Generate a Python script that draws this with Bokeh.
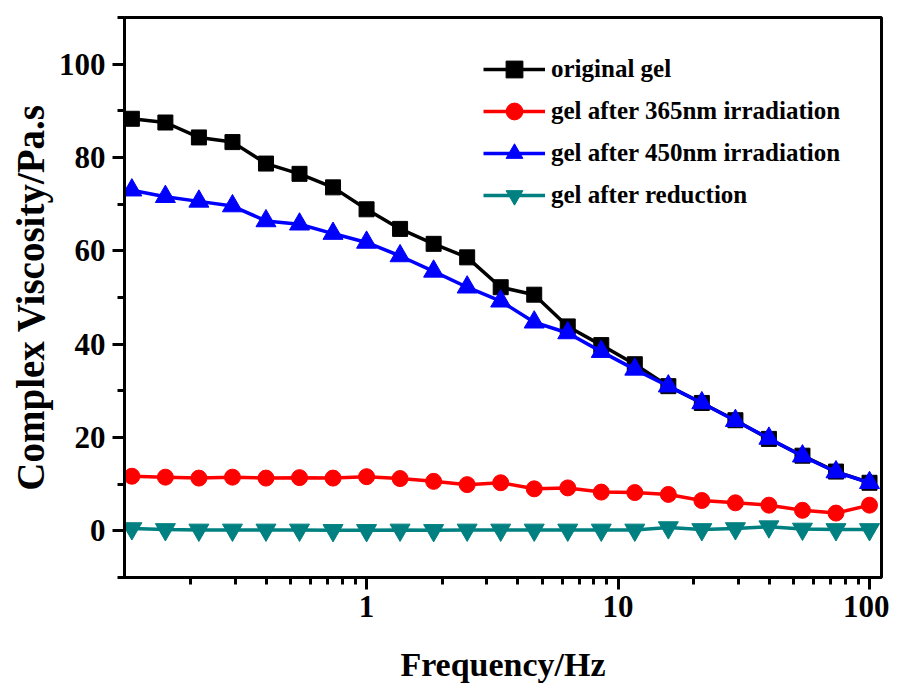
from bokeh.plotting import figure
from bokeh.models import FixedTicker, Range1d, Legend, LegendItem
from bokeh.embed import file_html
from bokeh.resources import INLINE

freq = [0.1166, 0.1585, 0.2154, 0.2929, 0.3981, 0.5412, 0.7356, 1.0, 1.359, 1.848,
        2.512, 3.415, 4.642, 6.310, 8.577, 11.66, 15.85, 21.54, 29.29, 39.81,
        54.12, 73.56, 100.0]
original = [88.3, 87.5, 84.3, 83.3, 78.7, 76.5, 73.6, 68.9, 64.7, 61.5,
            58.6, 52.2, 50.6, 43.8, 39.8, 35.7, 31.0, 27.4, 23.7, 19.7,
            16.1, 12.7, 10.3]
after365 = [11.7, 11.5, 11.3, 11.5, 11.3, 11.4, 11.3, 11.6, 11.2, 10.6,
            9.9, 10.3, 9.0, 9.2, 8.3, 8.2, 7.8, 6.5, 6.0, 5.5,
            4.4, 3.8, 5.5]
after450 = [73.0, 71.6, 70.6, 69.6, 66.4, 65.7, 63.7, 61.8, 58.9, 55.6,
            52.2, 49.2, 44.7, 42.4, 38.4, 34.6, 31.0, 27.4, 23.6, 19.8,
            16.0, 12.6, 10.3]
reduction = [0.5, 0.3, 0.2, 0.2, 0.2, 0.2, 0.1, 0.1, 0.2, 0.1,
             0.2, 0.2, 0.2, 0.2, 0.2, 0.2, 0.7, 0.3, 0.5, 0.9,
             0.4, 0.3, 0.3]

series_names = ["original gel", "gel after 365nm irradiation",
                "gel after 450nm irradiation", "gel after reduction"]
x_major = [1, 10, 100]
y_major = [0, 20, 40, 60, 80, 100]

FONT = "'Liberation Serif', 'Times New Roman', serif"

p = figure(width=889, height=685, x_axis_type="log",
           x_range=Range1d(0.109, 111.6), y_range=Range1d(-10, 110),
           output_backend="svg", toolbar_location=None,
           min_border_left=124, min_border_right=8, min_border_top=17,
           min_border_bottom=107)
p.grid.visible = False
p.outline_line_color = "black"
p.outline_line_width = 3
p.background_fill_color = "white"
p.border_fill_color = "white"

x_minor = [m * d for d in (0.1, 1, 10) for m in range(2, 10)]
y_minor = [-10, 10, 30, 50, 70, 90, 110]
p.xaxis.ticker = FixedTicker(ticks=x_major, minor_ticks=x_minor)
p.yaxis.ticker = FixedTicker(ticks=y_major, minor_ticks=y_minor)
p.xaxis.major_label_overrides = {1: "1", 10: "10", 100: "100"}

for ax in (p.xaxis[0], p.yaxis[0]):
    ax.axis_line_width = 3
    ax.axis_line_color = "black"
    ax.major_tick_line_width = 3
    ax.minor_tick_line_width = 3
    ax.major_tick_in = 0
    ax.minor_tick_in = 0
    ax.major_tick_out = 12
    ax.minor_tick_out = 7
    ax.major_label_text_font = FONT
    ax.major_label_text_font_style = "bold"
    ax.major_label_text_font_size = "31px"
    ax.major_label_text_color = "black"
    ax.axis_label_text_font = FONT
    ax.axis_label_text_font_style = "bold"
    ax.axis_label_text_color = "black"

p.xaxis.axis_label = "Frequency/Hz"
p.yaxis.axis_label = "Complex Viscosity/Pa.s"
p.xaxis.axis_label_text_font_size = "34px"
p.yaxis.axis_label_text_font_size = "39px"
p.xaxis.major_label_standoff = 6
p.yaxis.major_label_standoff = 7
p.xaxis.axis_label_standoff = 26
p.yaxis.axis_label_standoff = 4

specs = [
    (original, "black", "square", 15),
    (after365, "#FF0000", "circle", 16),
    (after450, "#0000FF", "triangle", 20),
    (reduction, "#008080", "inverted_triangle", 20),
]
items = []
for name, (vals, color, marker, size) in zip(series_names, specs):
    r1 = p.line(freq, vals, line_color=color, line_width=3.5)
    r2 = p.scatter(freq, vals, marker=marker, size=size,
                   fill_color=color, line_color=color)
    items.append(LegendItem(label=name, renderers=[r1, r2]))

legend = Legend(items=items, location=(359, 361),
                label_text_font=FONT, label_text_font_style="bold",
                label_text_font_size="25px", label_text_color="black",
                glyph_width=62, glyph_height=42, label_height=42,
                spacing=0, label_standoff=6, padding=0, margin=0,
                border_line_color=None, background_fill_alpha=0)
p.add_layout(legend, "center")

open("out.html", "w").write(file_html(p, INLINE))
